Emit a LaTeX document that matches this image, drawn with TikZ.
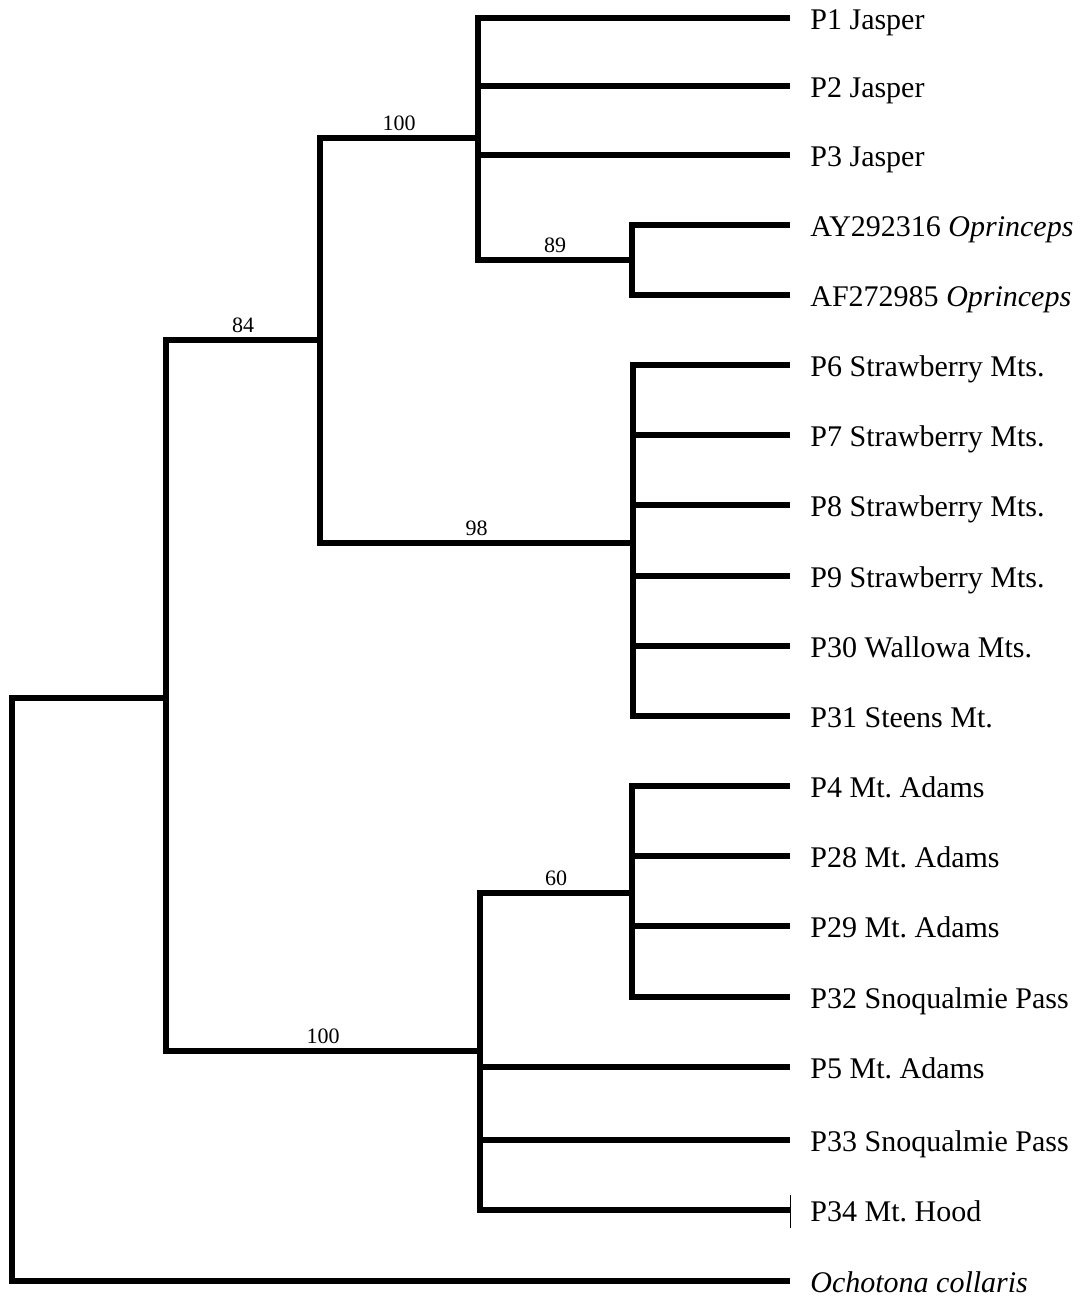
\documentclass[tikz,border=0pt]{standalone}
\usepackage{fontspec}
\setmainfont{Liberation Serif}
\usetikzlibrary{positioning,calc}
\frenchspacing
\tikzset{
  branch/.style={line width=2.75pt, line join=miter, line cap=butt},
  leaf/.style={anchor=base west, inner sep=0pt, xshift=10pt, yshift=-5.5pt, font=\fontsize{15}{18}\selectfont},
  boot/.style={anchor=base, inner sep=0pt, yshift=4pt, font=\fontsize{11}{13}\selectfont},
}
\begin{document}
\begin{tikzpicture}[x=0.5pt, y=-0.5pt]
\useasboundingbox (0,0) rectangle (1087,1296);
% leaf tips at x=790, y as in the scan (px, downwards)
\foreach \n/\yy/\t in {p1/18/{P1 Jasper}, p2/86/{P2 Jasper}, p3/155/{P3 Jasper},
    ay/225/{AY292316 \textit{Oprinceps}}, af/295/{AF272985 \textit{Oprinceps}},
    p6/365/{P6 Strawberry Mts.}, p7/435/{P7 Strawberry Mts.}, p8/505/{P8 Strawberry Mts.},
    p9/576/{P9 Strawberry Mts.}, p30/646/{P30 Wallowa Mts.}, p31/716/{P31 Steens Mt.},
    p4/786/{P4 Mt. Adams}, p28/856/{P28 Mt. Adams}, p29/926/{P29 Mt. Adams},
    p32/997/{P32 Snoqualmie Pass}, p5/1067/{P5 Mt. Adams}, p33/1140/{P33 Snoqualmie Pass},
    p34/1210/{P34 Mt. Hood}, och/1281/{\textit{Ochotona collaris}}}{
  \coordinate (\n) at (790,\yy);
  \node[leaf] (\n-lab) at (\n) {\t};
}
% internal nodes: x of the vertical bar, y where the parent joins
\coordinate (nR) at (12,990);
\coordinate (nA) at (166,698);
\coordinate (nB) at (320,340);
\coordinate (nC) at (478,138);
\coordinate (nD) at (632,260);
\coordinate (nE) at (633,543);
\coordinate (nF) at (480,1051);
\coordinate (nG) at (632,893);
% root
\draw[branch] (nA) -- (nR|-nA) -- (nR|-och) -- (och);
\draw[branch] (nB) -- node[boot] {84} (nA|-nB) -- (nA|-nF) -- node[boot] {100} (nF);
\draw[branch] (nC) -- node[boot] {100} (nB|-nC) -- (nB|-nE) -- node[boot] {98} (nE);
% Jasper clade
\draw[branch] (p1) -- (nC|-p1) -- (nC|-nD) -- node[boot] {89} (nD);
\foreach \n in {p2,p3}
  \draw[branch] (nC|-\n) -- (\n);
\draw[branch] (ay) -- (nD|-ay) -- (nD|-af) -- (af);
% Strawberry clade
\draw[branch] (p6) -- (nE|-p6) -- (nE|-p31) -- (p31);
\foreach \n in {p7,p8,p9,p30}
  \draw[branch] (nE|-\n) -- (\n);
% Adams clade
\draw[branch] (nG) -- node[boot] {60} (nF|-nG) -- (nF|-p34) -- (p34);
\foreach \n in {p5,p33}
  \draw[branch] (nF|-\n) -- (\n);
\draw[branch] (p4) -- (nG|-p4) -- (nG|-p32) -- (p32);
\foreach \n in {p28,p29}
  \draw[branch] (nG|-\n) -- (\n);
% thin tick at the P34 tip
\draw[line width=0.5pt] ([yshift=7.5pt]p34) -- ([yshift=-9pt]p34);
\end{tikzpicture}
\end{document}
